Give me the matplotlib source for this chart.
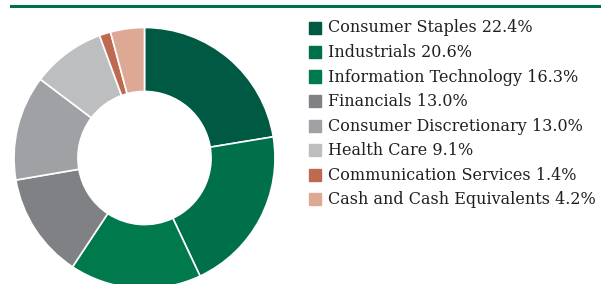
import matplotlib.pyplot as plt
from matplotlib.patches import Rectangle
from matplotlib.lines import Line2D

sectors = ["Consumer Staples", "Industrials", "Information Technology", "Financials",
           "Consumer Discretionary", "Health Care", "Communication Services",
           "Cash and Cash Equivalents"]
weights = [22.4, 20.6, 16.3, 13.0, 13.0, 9.1, 1.4, 4.2]
colors = ["#005A43", "#00704A", "#007A4D", "#808184", "#A0A1A4", "#BDBEC0",
          "#BE6A50", "#DDA995"]

W, H = 601, 284
fig = plt.figure(figsize=(W / 100, H / 100), dpi=100)

# green rule across the top
fig.add_artist(Line2D([11 / W, 1], [1 - 5.5 / H, 1 - 5.5 / H], color="#00704A", lw=2.2))

# donut
cx, cy, r = 144.5, 158, 130.5
ax = fig.add_axes([(cx - r) / W, (H - cy - r) / H, 2 * r / W, 2 * r / H])
ax.pie(weights, colors=colors, startangle=90, counterclock=False,
       wedgeprops=dict(width=0.49, edgecolor="white", linewidth=1.2))
ax.set_xlim(-1, 1)
ax.set_ylim(-1, 1)
ax.set_aspect("equal")
ax.axis("off")

# legend
y0, dy = 27.5, 24.5
for i, (name, w, c) in enumerate(zip(sectors, weights, colors)):
    yc = y0 + i * dy
    fig.add_artist(Rectangle((309 / W, 1 - (yc + 6) / H), 12 / W, 12 / H,
                             transform=fig.transFigure, color=c))
    fig.text(328 / W, 1 - (yc + 0.5) / H, f"{name} {w:.1f}%", va="center", ha="left",
             fontsize=11.5, family="DejaVu Serif", color="#231F20")

fig.savefig("out.png", dpi=100)
